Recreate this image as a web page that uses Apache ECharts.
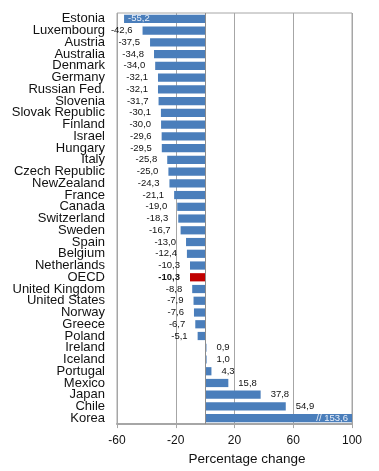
<!DOCTYPE html>
<html><head><meta charset="utf-8">
<script src="https://cdn.jsdelivr.net/npm/echarts@6/dist/echarts.min.js"></script>
<style>html,body{margin:0;padding:0;background:#fff}#c{width:379px;height:471px}</style>
</head><body><div id="c"></div>
<script>
const categories = ["Estonia","Luxembourg","Austria","Australia","Denmark","Germany","Russian Fed.","Slovenia","Slovak Republic","Finland","Israel","Hungary","Italy","Czech Republic","NewZealand","France","Canada","Switzerland","Sweden","Spain","Belgium","Netherlands","OECD","United Kingdom","United States","Norway","Greece","Poland","Ireland","Iceland","Portugal","Mexico","Japan","Chile","Korea"];
const values = [-55.2,-42.6,-37.5,-34.8,-34.0,-32.1,-32.1,-31.7,-30.1,-30.0,-29.6,-29.5,-25.8,-25.0,-24.3,-21.1,-19.0,-18.3,-16.7,-13.0,-12.4,-10.3,-10.3,-8.8,-7.9,-7.6,-6.7,-5.1,0.9,1.0,4.3,15.8,37.8,54.9,153.6];
const xTicks = [-60,-20,20,60,100];
const highlight = "OECD";
const insideLabels = ["Estonia"];
const breakLabels = ["Korea"];

const fmt = v => v.toFixed(1).replace('.', ',');
const data = values.map((v, i) => {
  const name = categories[i];
  const item = { value: v, itemStyle: { color: name === highlight ? '#c00000' : '#4a7ebb' } };
  let label = { position: v < 0 ? 'left' : 'right', distance: 10 };
  if (insideLabels.includes(name)) label = { position: 'insideLeft', color: '#e8eef8', distance: 4 };
  if (breakLabels.includes(name)) label = { position: 'insideRight', color: '#e8eef8', distance: 4, formatter: '// ' + fmt(v) };
  if (name === highlight) label.fontWeight = 'bold';
  item.label = label;
  return item;
});

const chart = echarts.init(document.getElementById('c'));
chart.setOption({
  animation: false,
  grid: { left: 117, right: 27, top: 13, bottom: 40, show: true, borderColor: '#a6a6a6', borderWidth: 1, backgroundColor: 'transparent' },
  xAxis: {
    type: 'value', min: xTicks[0], max: xTicks[xTicks.length - 1], interval: 40,
    axisLine: { show: true, lineStyle: { color: '#a6a6a6', width: 2 } },
    axisTick: { show: true, length: 4, lineStyle: { color: '#a6a6a6' } },
    splitLine: { show: true, lineStyle: { color: '#a6a6a6', width: 1 } },
    axisLabel: { color: '#111', fontFamily: 'Liberation Sans', fontSize: 12, margin: 11 },
    name: 'Percentage change', nameLocation: 'middle', nameGap: 23,
    nameTextStyle: { color: '#111', fontFamily: 'Liberation Sans', fontSize: 13.5, padding: [0, 0, 0, 25] }
  },
  yAxis: {
    type: 'category', data: categories, inverse: true,
    axisLine: { show: false }, axisTick: { show: false },
    axisLabel: { interval: 0, color: '#111', fontFamily: 'Liberation Sans', fontSize: 13, margin: 12, lineHeight: 12 }
  },
  series: [{
    type: 'bar', data: data, barCategoryGap: '30%', clip: true,
    label: { show: true, formatter: p => fmt(p.value), color: '#111', fontFamily: 'Liberation Sans', fontSize: 9.5 },
    markLine: { silent: true, symbol: 'none', label: { show: false },
      lineStyle: { color: '#8c8c8c', type: 'solid', width: 1 }, data: [{ xAxis: 0 }] }
  }]
});
</script></body></html>
